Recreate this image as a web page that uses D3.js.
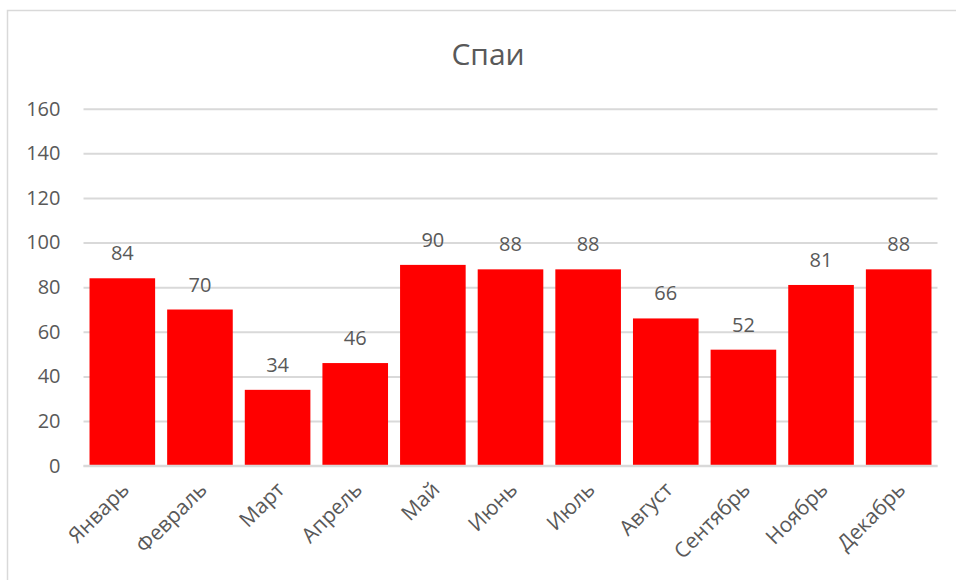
<!DOCTYPE html>
<html>
<head>
<meta charset="utf-8">
<script src="https://cdn.jsdelivr.net/npm/d3@7"></script>
<style>
  html, body { margin: 0; padding: 0; background: #fff; }
  svg { display: block; font-family: "Open Sans", "DejaVu Sans", sans-serif; }
</style>
</head>
<body>
<svg id="chart" width="956" height="580"></svg>
<script>
// Monthly counts
const months = ["Январь", "Февраль", "Март", "Апрель", "Май", "Июнь", "Июль", "Август", "Сентябрь", "Ноябрь", "Декабрь"];
const values = [84, 70, 34, 46, 90, 88, 88, 66, 52, 81, 88];
const yTicks = [0, 20, 40, 60, 80, 100, 120, 140, 160];
const title = "Спаи";

const svg = d3.select("#chart");
const textColor = "#595959";
const gridColor = "#d9d9d9";

// chart frame
svg.append("rect")
  .attr("x", 7.5).attr("y", 10.5)
  .attr("width", 960).attr("height", 600)
  .attr("fill", "#fff").attr("stroke", gridColor).attr("stroke-width", 1.5);

const plot = { left: 83.5, right: 937.5, top: 108.7, bottom: 465.7 };

const x = d3.scaleBand()
  .domain(months)
  .range([plot.left, plot.right])
  .paddingInner(0.155)
  .paddingOuter(0.0775);

const y = d3.scaleLinear()
  .domain([0, 160])
  .range([plot.bottom, plot.top]);

// title
svg.append("text")
  .attr("x", 488).attr("y", 65)
  .attr("text-anchor", "middle")
  .attr("fill", textColor)
  .attr("font-size", 30)
  .text(title);

// gridlines + y labels
const yAxis = d3.axisLeft(y).tickValues(yTicks).tickSize(-(plot.right - plot.left)).tickPadding(23);
const gy = svg.append("g")
  .attr("transform", `translate(${plot.left},0)`)
  .call(yAxis);
gy.select(".domain").remove();
gy.selectAll(".tick line").attr("stroke", gridColor).attr("stroke-width", 2);
gy.selectAll(".tick text")
  .attr("fill", textColor)
  .attr("font-size", 20)
  .attr("font-family", "\"Open Sans\", sans-serif");

// bars
svg.append("g").selectAll("rect")
  .data(months)
  .join("rect")
  .attr("x", d => x(d))
  .attr("width", x.bandwidth())
  .attr("y", (d, i) => y(values[i]))
  .attr("height", (d, i) => y(0) - y(values[i]))
  .attr("fill", "#ff0000");

// x axis baseline
svg.append("line")
  .attr("x1", plot.left).attr("x2", plot.right)
  .attr("y1", y(0)).attr("y2", y(0))
  .attr("stroke", gridColor).attr("stroke-width", 2);

// value labels
svg.append("g").selectAll("text")
  .data(months)
  .join("text")
  .attr("x", d => x(d) + x.bandwidth() / 2)
  .attr("y", (d, i) => y(values[i]) - 18)
  .attr("text-anchor", "middle")
  .attr("fill", textColor)
  .attr("font-size", 20)
  .text((d, i) => values[i]);

// rotated category labels
svg.append("g").selectAll("text")
  .data(months)
  .join("text")
  .attr("transform", d => `translate(${x(d) + x.bandwidth() / 2 + 3},${plot.bottom + 20}) rotate(-45)`)
  .attr("text-anchor", "end")
  .attr("dy", "0.35em")
  .attr("fill", textColor)
  .attr("font-size", 21)
  .text(d => d);
</script>
</body>
</html>
